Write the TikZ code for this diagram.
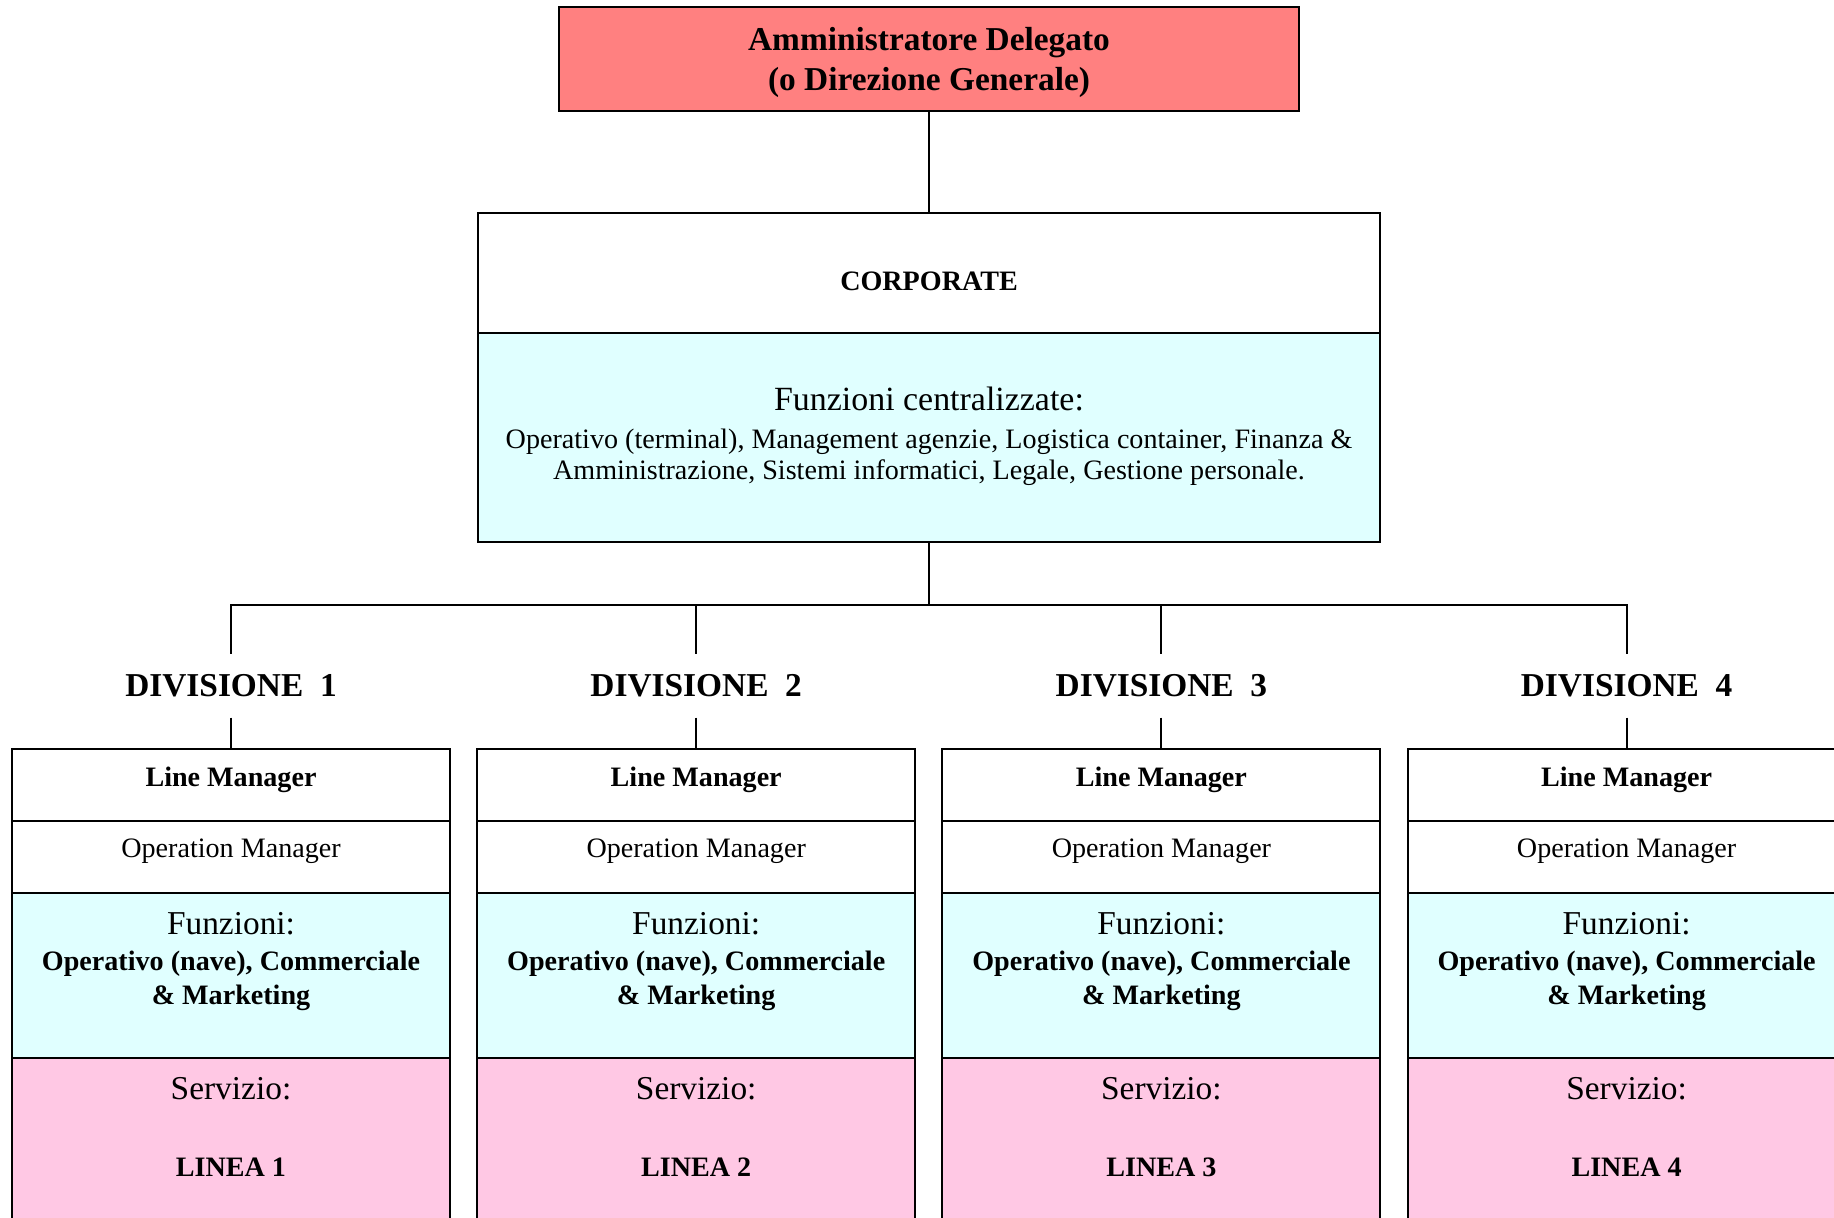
\documentclass[tikz,border=0pt]{standalone}
\usepackage{fontspec}
\setmainfont{Liberation Serif}
\usetikzlibrary{positioning}
\definecolor{cAD}{RGB}{255,128,128}
\definecolor{cFun}{RGB}{224,255,255}
\definecolor{cSrv}{RGB}{255,200,228}
\newcommand{\szBig}{\fontsize{19}{22}\selectfont}
\newcommand{\szTxt}{\fontsize{16}{17}\selectfont}

\begin{document}
\begin{tikzpicture}[
  x=0.02cm, y=-0.02cm,
  box/.style    = {draw, line width=1.1pt, outer sep=0pt, inner sep=0pt, align=center},
  col/.style    = {box, minimum width=8.76cm, minimum height=1.44cm},
  txt/.style    = {inner sep=0pt, align=center, font=\szTxt},
  divlbl/.style = {font=\bfseries\szBig, inner xsep=0pt, inner ysep=11.5pt},
  wire/.style   = {line width=1.1pt}
]
\useasboundingbox (0,0) rectangle (1834,1217);

% ---------------------------------------------------------------- vertice --
\node[box, fill=cAD, minimum width=14.8cm, minimum height=2.08cm, text height=40pt,
      font=\bfseries\fontsize{19}{23}\selectfont] (ad) at (929,59)
      {Amministratore Delegato\\(o Direzione Generale)};
\node[box, minimum width=18.06cm, minimum height=2.4cm, text height=20pt,
      font=\bfseries\szTxt, below=58pt of ad] (corp) {CORPORATE};
\node[box, fill=cFun, minimum width=18.06cm, minimum height=4.18cm,
      below=0pt of corp] (cent) {};
\node[txt, below=30.8pt of cent.north] (centtxt)
      {{\fontsize{19.3}{22}\selectfont Funzioni centralizzate:}\\[4.2pt]
       Operativo (terminal), Management agenzie, Logistica container, Finanza \&\\[0.6pt]
       Amministrazione, Sistemi informatici, Legale, Gestione personale.};

% -------------------------------------------------------------- divisioni --
\coordinate (bus) at (929,605);
\foreach \i/\cx in {1/231, 2/696.2, 3/1161.4, 4/1626.6}{
  \node[divlbl] (div\i) at (\cx,685.7) {DIVISIONE\ \ \i};
  \node[col, text depth=10pt, font=\bfseries\szTxt,
        below=18pt of div\i] (lm\i) {Line Manager};
  \node[col, text depth=10pt, font=\szTxt, below=0pt of lm\i] (om\i) {Operation Manager};
  \node[col, fill=cFun, minimum height=3.3cm, below=0pt of om\i] (fz\i) {};
  \node[col, fill=cSrv, minimum height=4.4cm, below=0pt of fz\i] (sv\i) {};
  \node[txt, below=11pt of fz\i.north] (fzt\i)
        {{\szBig Funzioni:}\\[3.5pt]\bfseries Operativo (nave), Commerciale\\[2pt]\bfseries\& Marketing};
  \node[txt, below=11pt of sv\i.north] (svt\i)
        {{\szBig Servizio:}\\[26.4pt]\bfseries LINEA \i};
}

% ------------------------------------------------------------ collegamenti --
\draw[wire] (ad) -- (corp);
\draw[wire] (cent) -- (bus);
\draw[wire] (div1) |- (bus) -| (div4);
\draw[wire] (div2) -- (div2 |- bus);
\draw[wire] (div3) -- (div3 |- bus);
\foreach \i in {1,...,4} \draw[wire] (div\i) -- (lm\i);

\end{tikzpicture}
\end{document}
